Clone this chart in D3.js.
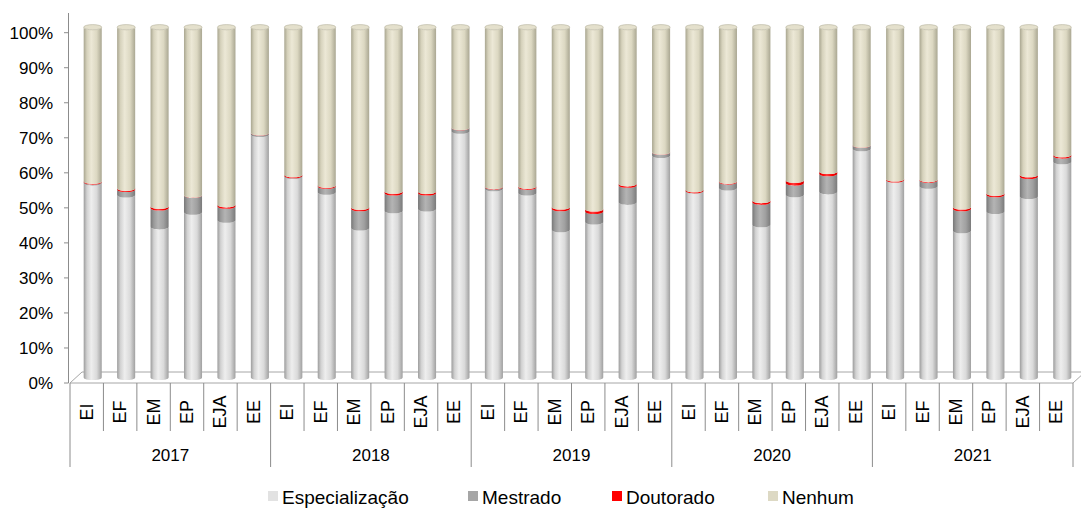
<!DOCTYPE html>
<html><head><meta charset="utf-8">
<script src="https://cdn.jsdelivr.net/npm/d3@7"></script>
<style>html,body{margin:0;padding:0;background:#fff;}svg{display:block;font-family:"Liberation Sans",Arial,sans-serif;}</style>
</head><body><svg id="c" width="1081" height="513"></svg>
<script>
const years = ["2017","2018","2019","2020","2021"];
const levels = ["EI","EF","EM","EP","EJA","EE"];
const seriesNames = ["Especialização","Mestrado","Doutorado","Nenhum"];
const especializacao = [55.5,52.1,43.0,47.2,44.9,69.4, 57.4,52.9,42.7,47.6,48.1,70.3, 53.9,52.7,42.2,44.4,50.0,63.4, 53.2,54.1,43.6,52.2,53.0,65.3, 56.3,54.6,41.9,47.4,51.7,61.6];
const mestrado = [0.3,1.6,5.4,4.8,4.0,0.4, 0.2,1.7,5.5,5.1,4.6,1.0, 0.5,1.6,6.0,3.0,4.9,0.9, 0.1,1.7,6.4,3.3,5.2,1.0, 0.1,1.7,6.3,4.8,5.7,1.6];
const doutorado = [0.2,0.3,0.5,0.1,0.4,0.1, 0.3,0.3,0.4,0.5,0.4,0.1, 0.1,0.3,0.5,0.7,0.4,0.1, 0.3,0.2,0.5,0.8,0.6,0.1, 0.3,0.2,0.5,0.4,0.5,0.4];
const nenhum = especializacao.map((d,i)=>+(100-d-mestrado[i]-doutorado[i]).toFixed(1));
const yTicks = [0,10,20,30,40,50,60,70,80,90,100];

const colors = ["#e2e2e2","#a6a6a6","#ff0000","#ddd9c4"];
const edgeCols = [["#9c9c9c","#d2d2d2","#eeeeee","#dadada","#a0a0a0"],
                  ["#777","#9a9a9a","#b4b4b4","#a0a0a0","#7a7a7a"],
                  ["#c00","#f00","#ff4040","#f00","#c00"],
                  ["#a9a690","#d6d2bc","#ece8d6","#dcd8c2","#aaa792"]];

const svg = d3.select("#c");
const defs = svg.append("defs");
edgeCols.forEach((c,i)=>{
  const g = defs.append("linearGradient").attr("id","g"+i).attr("x1","0").attr("x2","1").attr("y1","0").attr("y2","0");
  [0,0.18,0.42,0.72,1].forEach((o,j)=>g.append("stop").attr("offset",o).attr("stop-color",c[j]));
});

const left=70, right=1073, y0=383, y100=32.7;
const depthX=12, depthY=-11;
const cats = [];
years.forEach(y=>levels.forEach(l=>cats.push(y+"|"+l)));
const x = d3.scaleBand().domain(cats).range([left,right]).paddingInner(0).paddingOuter(0);
const y = d3.scaleLinear().domain([0,100]).range([y0,y100]);

// floor
const floor = d3.path();
floor.moveTo(left,y0); floor.lineTo(right,y0); floor.lineTo(right+depthX,y0+depthY);
floor.lineTo(left+depthX,y0+depthY); floor.closePath();
svg.append("path").attr("d",floor.toString()).attr("fill","#fff").attr("stroke","#a6a6a6").attr("stroke-width",1);

// y axis
svg.append("line").attr("x1",68.5).attr("x2",68.5).attr("y1",13).attr("y2",y0).attr("stroke","#8c8c8c");
const ya = svg.append("g");
yTicks.forEach(t=>{
  ya.append("line").attr("x1",64).attr("x2",68.5).attr("y1",y(t)).attr("y2",y(t)).attr("stroke","#8c8c8c");
  ya.append("text").attr("x",53).attr("y",y(t)).attr("dy","0.35em").attr("text-anchor","end")
    .attr("font-size",17).attr("fill","#000").text(t+"%");
});

// bars
const stacks = [especializacao,mestrado,doutorado,nenhum];
const bw = x.bandwidth()*0.54, rx = bw/2, ry = 2.6;
const offX = depthX/2, offY = depthY/2;
const barsG = svg.append("g");
cats.forEach((c,i)=>{
  const cx = x(c)+x.bandwidth()/2+offX;
  let cum = 0;
  const g = barsG.append("g");
  stacks.forEach((s,k)=>{
    const v = s[i];
    const yb = y(cum)+offY, yt = y(cum+v)+offY;
    cum += v;
    if (v<=0) return;
    const p = d3.path();
    p.moveTo(cx-rx,yt); p.lineTo(cx-rx,yb);
    p.bezierCurveTo(cx-rx,yb+ry*1.33,cx+rx,yb+ry*1.33,cx+rx,yb);
    p.lineTo(cx+rx,yt);
    p.bezierCurveTo(cx+rx,yt+ry*1.33,cx-rx,yt+ry*1.33,cx-rx,yt);
    p.closePath();
    g.append("path").attr("d",p.toString()).attr("fill","url(#g"+k+")");
  });
  const yt = y(cum)+offY;
  g.append("ellipse").attr("cx",cx).attr("cy",yt).attr("rx",rx).attr("ry",ry)
    .attr("fill","#e4e0cc").attr("stroke","#b5b29e").attr("stroke-width",0.6);
});

// category axis lines and labels
const ax = svg.append("g");
cats.forEach((c,i)=>{
  const xb = x(c);
  const isYear = i%6===0;
  ax.append("line").attr("x1",xb).attr("x2",xb).attr("y1",y0).attr("y2",isYear?467:431).attr("stroke","#8c8c8c");
  const xc = xb + x.bandwidth()/2;
  ax.append("text").attr("transform",`translate(${xc+6},412) rotate(-90)`).attr("text-anchor","middle")
    .attr("font-size",18).attr("fill","#000").text(c.split("|")[1]);
});
ax.append("line").attr("x1",right).attr("x2",right).attr("y1",y0).attr("y2",467).attr("stroke","#8c8c8c");
years.forEach((yr,j)=>{
  const xs = x(yr+"|EI"), xe = x(yr+"|EE")+x.bandwidth();
  ax.append("text").attr("x",(xs+xe)/2).attr("y",461).attr("text-anchor","middle").attr("font-size",17).attr("fill","#000").text(yr);
});

// legend
const legX = [268,468,612,768];
const lg = svg.append("g");
seriesNames.forEach((n,k)=>{
  lg.append("rect").attr("x",legX[k]).attr("y",491).attr("width",10).attr("height",10).attr("fill",colors[k]);
  lg.append("text").attr("x",legX[k]+14).attr("y",503.5).attr("font-size",19).attr("fill","#000").text(n);
});
</script></body></html>
